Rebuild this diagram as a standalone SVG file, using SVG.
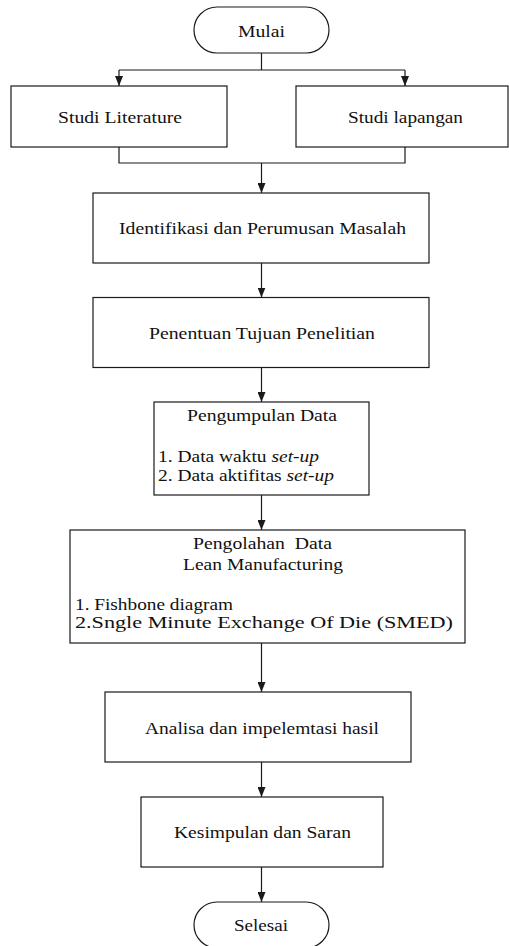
<svg xmlns="http://www.w3.org/2000/svg" width="509" height="946" viewBox="0 0 509 946">
<style>
.box{fill:#fff;stroke:#1a1a1a;stroke-width:1.2}
.ln{fill:none;stroke:#1a1a1a;stroke-width:1.2}
text{font-family:"Liberation Serif",serif;font-size:16px;fill:#111}
</style>
<defs>
<marker id="ah" viewBox="0 0 10 10" refX="10" refY="5" markerWidth="10" markerHeight="8" markerUnits="userSpaceOnUse" orient="auto" preserveAspectRatio="none">
<path d="M0,0 L10,5 L0,10 z" fill="#1a1a1a"/>
</marker>
</defs>
<rect width="509" height="946" fill="#fff"/>
<g id="connectors">
<path class="ln" d="M261.5,53 V70 M119,70 H405"/>
<path class="ln" d="M119,70 V86" marker-end="url(#ah)"/>
<path class="ln" d="M405,70 V86" marker-end="url(#ah)"/>
<path class="ln" d="M119,147 V163 H405 V147"/>
<path class="ln" d="M261.5,163 V193" marker-end="url(#ah)"/>
<path class="ln" d="M261.5,263 V297.5" marker-end="url(#ah)"/>
<path class="ln" d="M261.5,367.5 V402" marker-end="url(#ah)"/>
<path class="ln" d="M261.5,495 V530" marker-end="url(#ah)"/>
<path class="ln" d="M261.5,643 V692" marker-end="url(#ah)"/>
<path class="ln" d="M261.5,762 V797" marker-end="url(#ah)"/>
<path class="ln" d="M261.5,867 V902" marker-end="url(#ah)"/>
</g>
<g id="mulai">
<rect class="box" x="194" y="7" width="135" height="46" rx="23"/>
<text x="238" y="36.5" textLength="47" lengthAdjust="spacingAndGlyphs" font-family="Liberation Serif">Mulai</text>
</g>
<g id="studi-literature">
<rect class="box" x="11" y="86" width="216" height="61"/>
<text x="58" y="123" textLength="124" lengthAdjust="spacingAndGlyphs" font-family="Liberation Serif">Studi Literature</text>
</g>
<g id="studi-lapangan">
<rect class="box" x="296" y="86" width="212" height="61"/>
<text x="348" y="123" textLength="115" lengthAdjust="spacingAndGlyphs" font-family="Liberation Serif">Studi lapangan</text>
</g>
<g id="identifikasi">
<rect class="box" x="93" y="193" width="336" height="70"/>
<text x="119" y="234" textLength="287" lengthAdjust="spacingAndGlyphs" font-family="Liberation Serif">Identifikasi dan Perumusan Masalah</text>
</g>
<g id="penentuan">
<rect class="box" x="93" y="297.5" width="336" height="70"/>
<text x="149" y="338.5" textLength="226" lengthAdjust="spacingAndGlyphs" font-family="Liberation Serif">Penentuan Tujuan Penelitian</text>
</g>
<g id="pengumpulan">
<rect class="box" x="154" y="402" width="215" height="93"/>
<text x="187" y="421" textLength="150" lengthAdjust="spacingAndGlyphs" font-family="Liberation Serif">Pengumpulan Data</text>
<text x="158" y="462" textLength="161" lengthAdjust="spacingAndGlyphs" font-family="Liberation Serif">1. Data waktu <tspan font-style="italic">set-up</tspan></text>
<text x="158" y="481" textLength="176" lengthAdjust="spacingAndGlyphs" font-family="Liberation Serif">2. Data aktifitas <tspan font-style="italic">set-up</tspan></text>
</g>
<g id="pengolahan">
<rect class="box" x="70" y="530" width="395" height="113"/>
<text x="193" y="549" textLength="139" lengthAdjust="spacingAndGlyphs" font-family="Liberation Serif" xml:space="preserve">Pengolahan  Data</text>
<text x="183" y="570" textLength="160" lengthAdjust="spacingAndGlyphs" font-family="Liberation Serif">Lean Manufacturing</text>
<text x="75" y="610" textLength="158" lengthAdjust="spacingAndGlyphs" font-family="Liberation Serif">1. Fishbone diagram</text>
<text x="75" y="628" textLength="378" lengthAdjust="spacingAndGlyphs" font-family="Liberation Serif">2.Sngle Minute Exchange Of Die (SMED)</text>
</g>
<g id="analisa">
<rect class="box" x="105" y="692" width="306" height="70"/>
<text x="145" y="734" textLength="234" lengthAdjust="spacingAndGlyphs" font-family="Liberation Serif">Analisa dan impelemtasi hasil</text>
</g>
<g id="kesimpulan">
<rect class="box" x="141" y="797" width="242" height="70"/>
<text x="174" y="838" textLength="177" lengthAdjust="spacingAndGlyphs" font-family="Liberation Serif">Kesimpulan dan Saran</text>
</g>
<g id="selesai">
<rect class="box" x="194" y="902" width="135" height="46" rx="23"/>
<text x="234" y="931" textLength="54" lengthAdjust="spacingAndGlyphs" font-family="Liberation Serif">Selesai</text>
</g>
</svg>
